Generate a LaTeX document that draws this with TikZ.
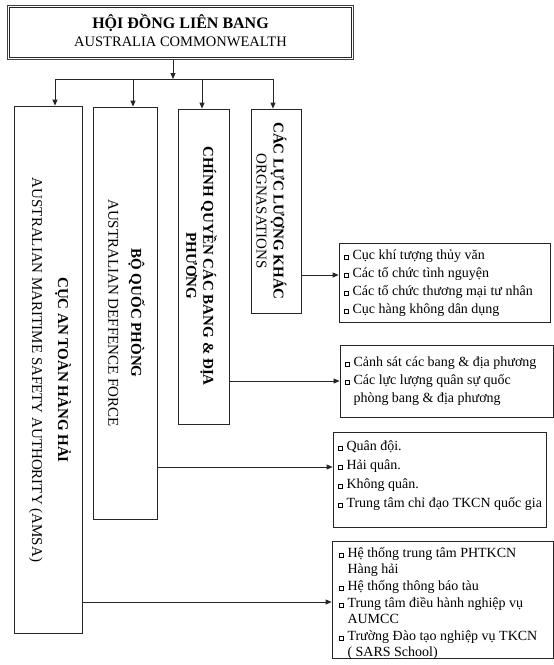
\documentclass[tikz,border=0pt]{standalone}
\usepackage{fontspec}
\setmainfont{Liberation Serif}
\usetikzlibrary{arrows.meta}
\newcommand\sqb{\raisebox{0.6pt}{\setlength\fboxsep{0pt}\setlength\fboxrule{0.45pt}\fbox{\rule{0pt}{3.4pt}\rule{3.4pt}{0pt}}}\hspace{4pt}}
\newcommand\indt{\hphantom{\sqb}}
\begin{document}
\begin{tikzpicture}[x=1pt,y=-1pt,
  box/.style={draw=black!85, line width=0.8pt, inner sep=0pt},
  arr/.style={draw=black!85, line width=0.8pt, -{Triangle[length=6pt,width=5pt]}},
  conn/.style={draw=black!85, line width=0.8pt},
  vtext/.style={rotate=-90, align=center, inner sep=0pt},
  ltext/.style={align=left, anchor=north west, inner sep=0pt}]
\useasboundingbox (0,0) rectangle (554,665);

% top box
\node[draw=black!75, line width=1.6pt,
      minimum width=346pt, minimum height=54pt, inner sep=0pt]
  (top) at (180.5,32.5) {};
\draw[black!85, line width=0.6pt] ([shift={(3,3)}]top.north west) rectangle ([shift={(-3,-3)}]top.south east);
\node[align=center, inner sep=0pt, font=\fontsize{14.5}{18.5}\selectfont]
  (toptext) at (180.5,30.5)
  {{\fontsize{16}{18.5}\selectfont\bfseries HỘI ĐỒNG LIÊN BANG}\\
   AUSTRALIA COMMONWEALTH};

% vertical boxes
\node[box, minimum width=68pt, minimum height=527pt] (b1) at (48,369.5) {};
\node[box, minimum width=64pt, minimum height=412pt] (b2) at (125,313) {};
\node[box, minimum width=51pt, minimum height=315pt] (b3) at (203.5,266.5) {};
\node[box, minimum width=50pt, minimum height=204pt] (b4) at (276,211) {};

\node[vtext, font=\fontsize{15}{26}\selectfont] (t1) at (50,370)
  {\textbf{CỤC AN TOÀN HÀNG HẢI}\\AUSTRALIAN MARITIME SAFETY AUTHORITY (AMSA)};
\node[vtext, font=\fontsize{15}{23}\selectfont] (t2) at (126.5,313)
  {\textbf{BỘ QUỐC PHÒNG}\\AUSTRALIAN DEFFENCE FORCE};
\node[vtext, font=\fontsize{15}{17}\selectfont\bfseries] (t3) at (201.5,266)
  {CHÍNH QUYỀN CÁC BANG \& ĐỊA\\PHƯƠNG};
\node[vtext, font=\fontsize{15}{17}\selectfont] (t4) at (271.5,211)
  {\textbf{CÁC LỰC LƯỢNG KHÁC}\\ORGNASATIONS};

% right boxes
\node[box, minimum width=211pt, minimum height=79pt] (r1) at (444.5,282.5) {};
\node[box, minimum width=213pt, minimum height=72pt] (r2) at (446.5,381) {};
\node[box, minimum width=213pt, minimum height=95pt] (r3) at (439.5,479.5) {};
\node[box, minimum width=221pt, minimum height=117pt] (r4) at (442.5,599.5) {};

\node[ltext, font=\fontsize{14}{17.8}\selectfont] (l1) at (344,250)
  {\sqb Cục khí tượng thủy văn\\
   \sqb Các tổ chức tình nguyện\\
   \sqb Các tổ chức thương mại tư nhân\\
   \sqb Cục hàng không dân dụng};
\node[ltext, font=\fontsize{14}{18}\selectfont] (l2) at (345,357)
  {\sqb Cảnh sát các bang \& địa phương\\
   \sqb Các lực lượng quân sự quốc\\
   \indt phòng bang \& địa phương};
\node[ltext, font=\fontsize{14}{19}\selectfont] (l3) at (338,441)
  {\sqb Quân đội.\\
   \sqb Hải quân.\\
   \sqb Không quân.\\
   \sqb Trung tâm chỉ đạo TKCN quốc gia};
\node[ltext, font=\fontsize{14}{16.6}\selectfont] (l4) at (339,547)
  {\sqb Hệ thống trung tâm PHTKCN\\
   \indt Hàng hải\\
   \sqb Hệ thống thông báo tàu\\
   \sqb Trung tâm điều hành nghiệp vụ\\
   \indt AUMCC\\
   \sqb Trường Đào tạo nghiệp vụ TKCN\\
   \indt ( SARS School)};

% connectors top
\coordinate (bus) at (173,79);
\coordinate (k1) at (55,79);
\coordinate (k2) at (133,79);
\coordinate (k3) at (202,79);
\coordinate (k4) at (273,79);
\draw[arr] (top.south -| bus) -- (bus);
\draw[conn] (k1) -- (k4);
\draw[arr] (k1) -- (k1 |- b1.north);
\draw[arr] (k2) -- (k2 |- b2.north);
\draw[arr] (k3) -- (k3 |- b3.north);
\draw[arr] (k4) -- (k4 |- b4.north);

% connectors right
\coordinate (a4) at (301,275);
\coordinate (a3) at (229,381);
\coordinate (a2) at (157,467);
\coordinate (a1) at (82,602);
\draw[arr] (b4.east |- a4) -- (r1.west |- a4);
\draw[arr] (b3.east |- a3) -- (r2.west |- a3);
\draw[arr] (b2.east |- a2) -- (r3.west |- a2);
\draw[arr] (b1.east |- a1) -- (r4.west |- a1);
\end{tikzpicture}
\end{document}
